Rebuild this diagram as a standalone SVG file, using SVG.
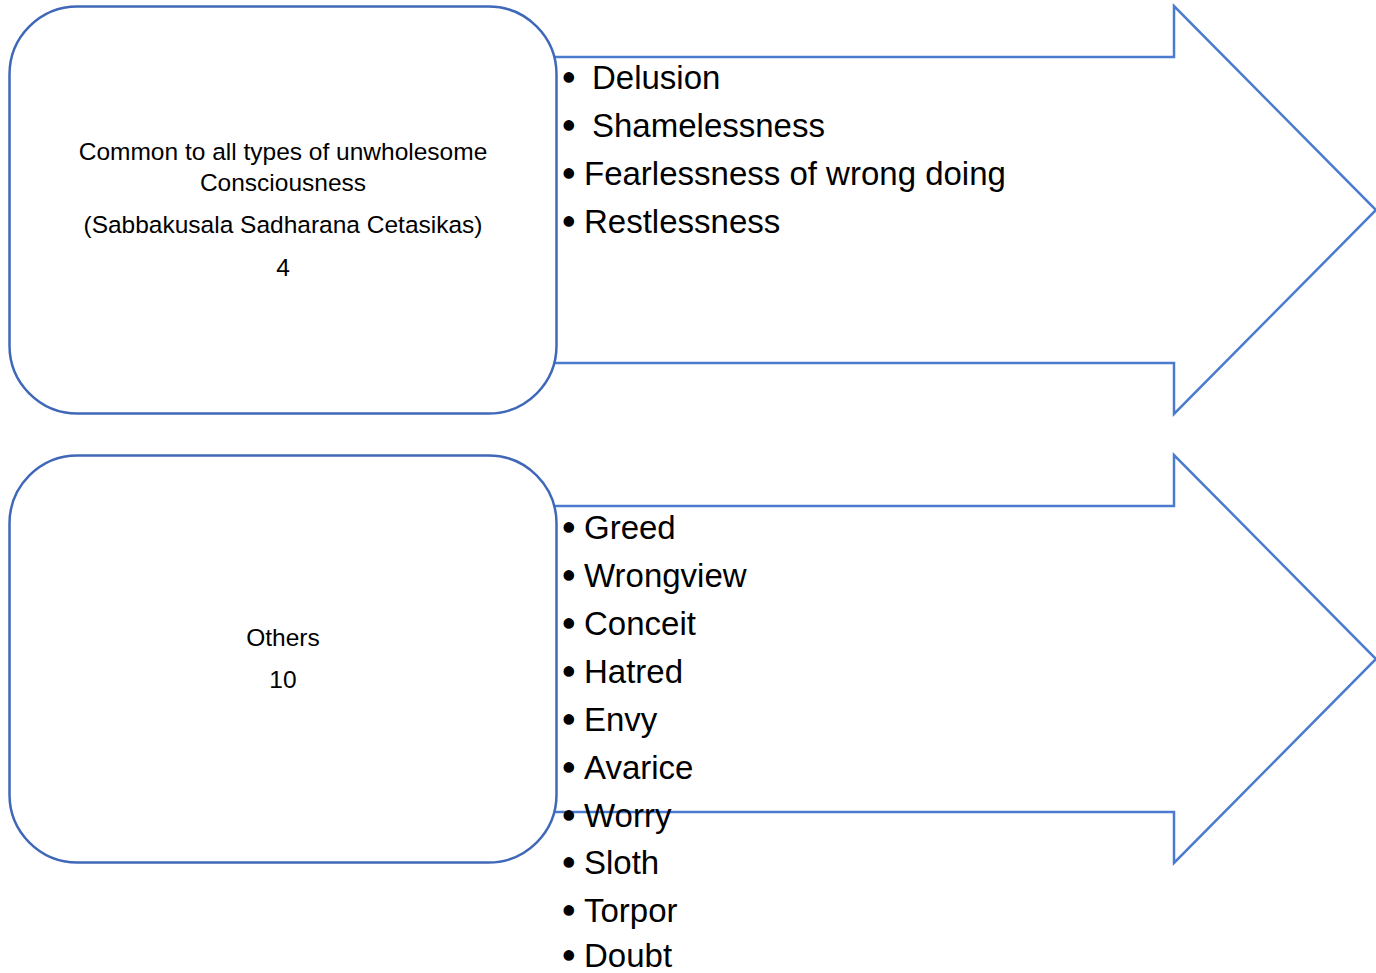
<svg xmlns="http://www.w3.org/2000/svg" width="1376" height="973" viewBox="0 0 1376 973">
<style>
.box{fill:#ffffff;stroke:#4068B8;stroke-width:2.5}
.arrow{fill:#ffffff;stroke:#4A7BCF;stroke-width:2.5;stroke-linejoin:miter}
.bt{font-family:"Liberation Sans",Arial,sans-serif;font-size:24.5px;fill:#000;text-anchor:middle}
.li{font-family:"Liberation Sans",Arial,sans-serif;font-size:33px;fill:#000}
.bu{font-family:"Liberation Sans",Arial,sans-serif;font-size:33px;fill:#000;stroke:#000;stroke-width:1.6}
</style>
<rect width="1376" height="973" fill="#ffffff"/>
<g id="connectors">
<polygon class="arrow" points="520,57 1174,57 1174,6 1376,210 1174,414 1174,363 520,363"/>
<polygon class="arrow" points="520,506 1174,506 1174,455 1376,659 1174,863 1174,812 520,812"/>
</g>
<g id="node1">
<rect class="box" x="9.5" y="6.5" width="547" height="407" rx="68" ry="68"/>
<text class="bt" x="283" y="160">Common to all types of unwholesome</text>
<text class="bt" x="283" y="191">Consciousness</text>
<text class="bt" x="283" y="233">(Sabbakusala Sadharana Cetasikas)</text>
<text class="bt" x="283" y="276">4</text>
</g>
<g id="node2">
<rect class="box" x="9.5" y="455.5" width="547" height="407" rx="68" ry="68"/>
<text class="bt" x="283" y="646">Others</text>
<text class="bt" x="283" y="688">10</text>
</g>
<g id="list1">
<text class="bu" x="563" y="89">•</text><text class="li" x="592" y="89">Delusion</text>
<text class="bu" x="563" y="137">•</text><text class="li" x="592" y="137">Shamelessness</text>
<text class="bu" x="563" y="185">•</text><text class="li" x="584" y="185">Fearlessness of wrong doing</text>
<text class="bu" x="563" y="233">•</text><text class="li" x="584" y="233">Restlessness</text>
</g>
<g id="list2">
<text class="bu" x="563" y="539">•</text><text class="li" x="584" y="539">Greed</text>
<text class="bu" x="563" y="587">•</text><text class="li" x="584" y="587">Wrongview</text>
<text class="bu" x="563" y="635">•</text><text class="li" x="584" y="635">Conceit</text>
<text class="bu" x="563" y="683">•</text><text class="li" x="584" y="683">Hatred</text>
<text class="bu" x="563" y="731">•</text><text class="li" x="584" y="731">Envy</text>
<text class="bu" x="563" y="779">•</text><text class="li" x="584" y="779">Avarice</text>
<text class="bu" x="563" y="827">•</text><text class="li" x="584" y="827">Worry</text>
<text class="bu" x="563" y="874">•</text><text class="li" x="584" y="874">Sloth</text>
<text class="bu" x="563" y="922">•</text><text class="li" x="584" y="922">Torpor</text>
<text class="bu" x="563" y="967">•</text><text class="li" x="584" y="967">Doubt</text>
</g>
</svg>
